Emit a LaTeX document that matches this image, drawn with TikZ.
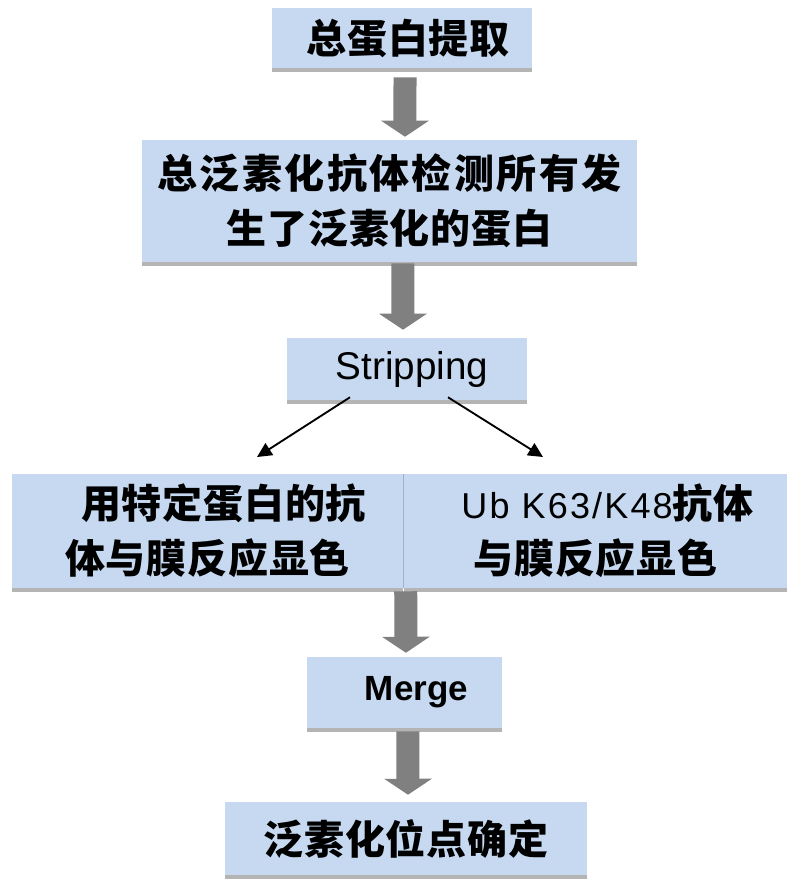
\documentclass[tikz,border=0pt]{standalone}
\usepackage{fontspec}
\usepackage{graphicx}
\setmainfont{Liberation Sans}
\newfontfamily\cjk{Noto Sans CJK SC}[LetterSpace=2]
\usetikzlibrary{arrows.meta,shadows}
\definecolor{boxfill}{HTML}{C6D9F1}
\definecolor{arrowgray}{HTML}{808080}
\definecolor{divline}{HTML}{9FB2CC}
\tikzset{
  box/.style={fill=boxfill, draw=none, inner sep=0pt, align=center,
    font=\cjk\bfseries\fontsize{30}{41}\selectfont,
    drop shadow={shadow xshift=0pt, shadow yshift=-3pt, opacity=0.45, fill=black!65}},
  blockarrow/.style={draw=arrowgray, line width=17.25pt,
    -{Triangle[width=35.25pt,length=12pt,fill=arrowgray]}},
  thinarrow/.style={draw=black, line width=1.4pt,
    -{Triangle[width=10.5pt,length=11pt]}},
  latinfont/.style={font=\normalfont\fontsize{29}{34}\selectfont},
}
\begin{document}
\begin{tikzpicture}[x=0.75pt,y=-0.75pt]
\useasboundingbox[fill=white] (0,0) rectangle (800,896);

% boxes
\node[box, minimum width=195pt, minimum height=45pt] (b1) at (402,38)
  {\hspace*{9pt}\raisebox{-4.5pt}{总蛋白提取}};
\node[box, minimum width=371.25pt, minimum height=91.5pt] (b2) at (389.5,201)
  {{\addfontfeature{LetterSpace=6}总泛素化抗体检测所有发}\\生了泛素化的蛋白};
\node[box, latinfont, minimum width=180pt, minimum height=46.5pt] (b3) at (407,369)
  {\hspace*{7.5pt}Stripping};
\node[box, minimum width=293.25pt, minimum height=85.5pt] (b4l) at (207.5,531)
  {\hspace*{24pt}用特定蛋白的抗\\体与膜反应显色};
\node[box, minimum width=287.25pt, minimum height=85.5pt] (b4r) at (595.5,531)
  {\hspace*{18pt}{\normalfont\fontsize{27}{30}\selectfont\addfontfeature{LetterSpace=6}Ub K63/K48}抗体\\与膜反应显色};
\draw[divline, line width=0.8pt] (b4r.north west) -- (b4r.south west);
\node[box, font=\normalfont\bfseries\fontsize{26.25}{32}\selectfont,
  minimum width=146.25pt, minimum height=53.25pt] (b5) at (404.5,692.5)
  {\hspace*{18pt}Merge};
\node[box, minimum width=271.5pt, minimum height=54.75pt] (b6) at (406,838.5)
  {泛素化位点确定};

% block arrows
\draw[blockarrow] ([xshift=2.25pt,yshift=-6.75pt]b1.south) -- ([xshift=11.6pt,yshift=2.25pt]b2.north);
\draw[blockarrow] ([xshift=10.1pt,yshift=-0.75pt]b2.south) -- ([xshift=-3pt,yshift=6pt]b3.north);
\draw[blockarrow] ([xshift=1.5pt,yshift=-2.25pt]b4r.south west) -- ([xshift=1.1pt,yshift=3pt]b5.north);
\draw[blockarrow] ([xshift=2.6pt,yshift=-2.25pt]b5.south) -- ([xshift=1.5pt,yshift=5.25pt]b6.north);

% thin arrows from Stripping
\coordinate (tl) at (257,457);
\coordinate (tr) at (543,457);
\draw[thinarrow] ([xshift=-42.75pt,yshift=2.25pt]b3.south) -- (tl);
\draw[thinarrow] ([xshift=30.75pt,yshift=2.25pt]b3.south) -- (tr);
\end{tikzpicture}
\end{document}
